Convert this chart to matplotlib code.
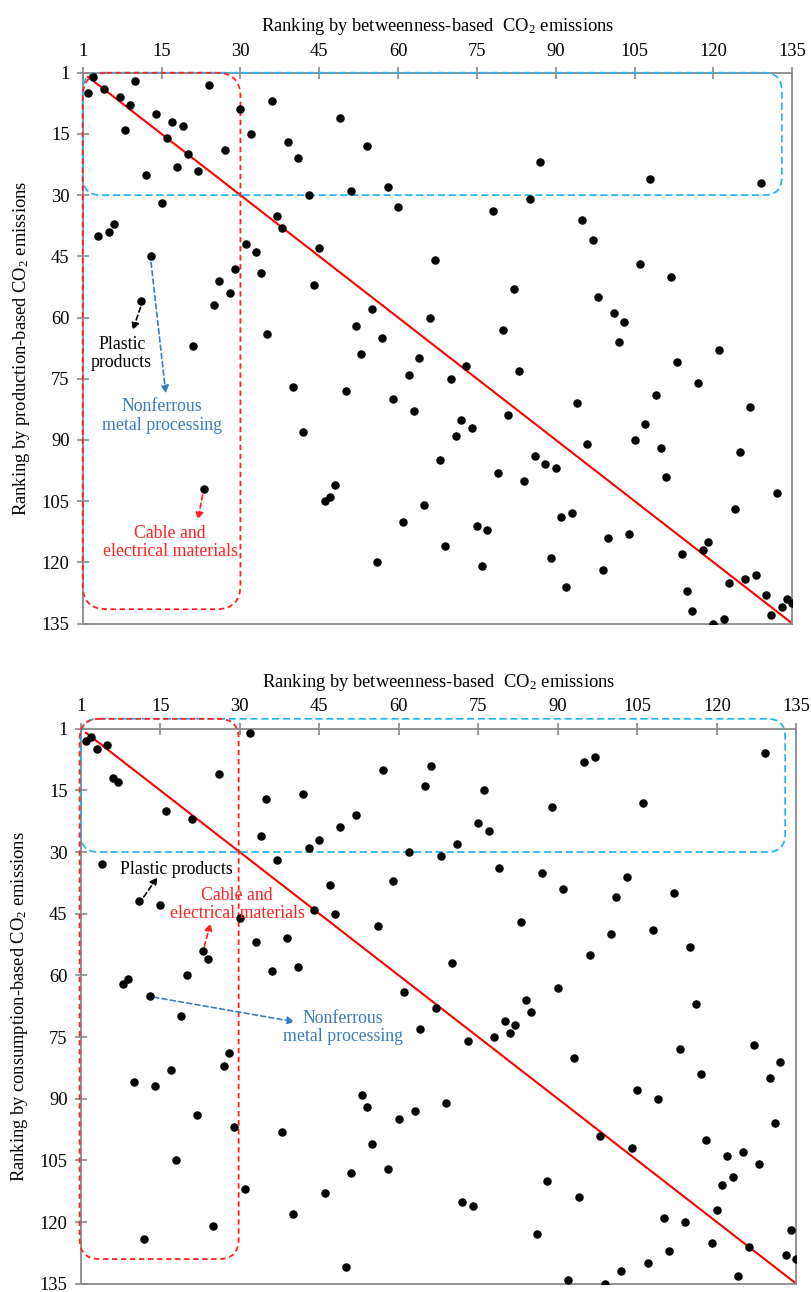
import matplotlib
matplotlib.use('Agg')
import matplotlib.pyplot as plt
from matplotlib.patches import FancyBboxPatch

plt.rcParams['font.family'] = ['Liberation Serif', 'DejaVu Serif']
plt.rcParams['mathtext.default'] = 'regular'

# sectors ranked by betweenness-based emissions (x) and the rank they get
# under production-based (top panel) and consumption-based (bottom panel)
betw_rank = list(range(1, 136))
prod_rank = [5, 1, 40, 4, 39, 37, 6, 14, 8, 2,
             56, 25, 45, 10, 32, 16, 12, 23, 13, 20,
             67, 24, 102, 3, 57, 51, 19, 54, 48, 9,
             42, 15, 44, 49, 64, 7, 35, 38, 17, 77,
             21, 88, 30, 52, 43, 105, 104, 101, 11, 78,
             29, 62, 69, 18, 58, 120, 65, 28, 80, 33,
             110, 74, 83, 70, 106, 60, 46, 95, 116, 75,
             89, 85, 72, 87, 111, 121, 112, 34, 98, 63,
             84, 53, 73, 100, 31, 94, 22, 96, 119, 97,
             109, 126, 108, 81, 36, 91, 41, 55, 122, 114,
             59, 66, 61, 113, 90, 47, 86, 26, 79, 92,
             99, 50, 71, 118, 127, 132, 76, 117, 115, 135,
             68, 134, 125, 107, 93, 124, 82, 123, 27, 128,
             133, 103, 131, 129, 130]
cons_rank = [3, 2, 5, 33, 4, 12, 13, 62, 61, 86,
             42, 124, 65, 87, 43, 20, 83, 105, 70, 60,
             22, 94, 54, 56, 121, 11, 82, 79, 97, 46,
             112, 1, 52, 26, 17, 59, 32, 98, 51, 118,
             58, 16, 29, 44, 27, 113, 38, 45, 24, 131,
             108, 21, 89, 92, 101, 48, 10, 107, 37, 95,
             64, 30, 93, 73, 14, 9, 68, 31, 91, 57,
             28, 115, 76, 116, 23, 15, 25, 75, 34, 71,
             74, 72, 47, 66, 69, 123, 35, 110, 19, 63,
             39, 134, 80, 114, 8, 55, 7, 99, 135, 50,
             41, 132, 36, 102, 88, 18, 130, 49, 90, 119,
             127, 40, 78, 120, 53, 67, 84, 100, 125, 117,
             111, 104, 109, 133, 103, 126, 77, 106, 6, 85,
             96, 81, 128, 122, 129]

tick_pos = [0, 15, 30, 45, 60, 75, 90, 105, 120, 135]
tick_lab = ['1', '15', '30', '45', '60', '75', '90', '105', '120', '135']

RED = '#ff2020'
SKY = '#29b5ef'
STEEL = '#3a7bc0'
GREY = '#8a8a8a'
FS = 13.3
FA = 12.8

fig = plt.figure(figsize=(8.11, 12.92), dpi=100)


def rbox(ax, x0, y0, x1, y1, r_px, color, dash):
    # rounded dashed box, corner radius given in pixels
    bb = ax.get_position()
    sx = bb.width * fig.get_figwidth() * fig.dpi / 135.0
    sy = bb.height * fig.get_figheight() * fig.dpi / 135.0
    rx = r_px / sx
    ry = r_px / sy
    p = FancyBboxPatch((x0, y0), x1 - x0, y1 - y0,
                       boxstyle='round,pad=0,rounding_size=%f' % rx,
                       mutation_aspect=ry / rx, fill=False,
                       edgecolor=color, linewidth=1.3, linestyle=(0, dash),
                       clip_on=False, zorder=3)
    ax.add_patch(p)


def setup(ax, ylab):
    ax.set_xlim(0, 135)
    ax.set_ylim(135, 0)
    ax.xaxis.tick_top()
    ax.xaxis.set_label_position('top')
    ax.set_xticks(tick_pos)
    ax.set_xticklabels(tick_lab)
    ax.set_yticks(tick_pos)
    ax.set_yticklabels(tick_lab)
    ax.tick_params(direction='inout', length=9, width=1.2, color=GREY,
                   labelsize=FS, pad=5)
    for s in ax.spines.values():
        s.set_color(GREY)
        s.set_linewidth(1.3)
    ax.set_xlabel('Ranking by betweenness-based  CO$_2$ emissions', fontsize=FS, labelpad=8)
    ax.set_ylabel(ylab, fontsize=FS, labelpad=7)


def arrow(ax, xy, xytext, color):
    ax.annotate('', xy=xy, xytext=xytext,
                arrowprops=dict(arrowstyle='-|>', color=color, lw=1.2,
                                ls=(0, (3, 2)), mutation_scale=11,
                                shrinkA=0, shrinkB=0), zorder=4)


# ---- top panel: production-based ----
ax1 = fig.add_axes([0.1020, 0.5174, 0.8750, 0.4263])
setup(ax1, 'Ranking by production-based CO$_2$ emissions')
ax1.plot([1, 135], [1, 135], color='red', lw=1.5, zorder=2)
ax1.scatter(betw_rank, prod_rank, s=26, color='black', zorder=5)
rbox(ax1, 0, 0, 133, 30, 18, SKY, (4, 2))
rbox(ax1, 0, 0, 30, 131.5, 24, RED, (3, 2))

arrow(ax1, (9.5, 63.1), (11.0, 57.5), 'black')
ax1.text(7.4, 68.8, 'Plastic\nproducts', ha='center', va='center',
         fontsize=FA, color='black', linespacing=1.1)
arrow(ax1, (15.8, 78.6), (13.0, 46.5), STEEL)
ax1.text(15.1, 84.1, 'Nonferrous\nmetal processing', ha='center', va='center',
         fontsize=FA, color=STEEL, linespacing=1.1)
arrow(ax1, (21.9, 109.6), (22.8, 103.5), RED)
ax1.text(16.6, 115.2, 'Cable and\nelectrical materials', ha='center', va='center',
         fontsize=FA, color=RED, linespacing=1.1)

# ---- bottom panel: consumption-based ----
ax2 = fig.add_axes([0.0995, 0.0064, 0.8824, 0.4296])
setup(ax2, 'Ranking by consumption-based CO$_2$ emissions')
ax2.plot([1, 135], [1, 135], color='red', lw=1.5, zorder=2)
ax2.scatter(betw_rank, cons_rank, s=26, color='black', zorder=5)
rbox(ax2, 0, -2.4, 132.9, 30, 18, SKY, (4, 2))
rbox(ax2, -0.2, -2.4, 29.8, 129, 20, RED, (3, 2))

arrow(ax2, (14.5, 36.1), (11.9, 40.9), 'black')
ax2.text(18.0, 34.2, 'Plastic products', ha='center', va='center',
         fontsize=FA, color='black')
arrow(ax2, (24.5, 47.3), (23.3, 53.0), RED)
ax2.text(29.5, 42.8, 'Cable and\nelectrical materials', ha='center', va='center',
         fontsize=FA, color=RED, linespacing=1.1, zorder=6)
arrow(ax2, (40.4, 71.3), (13.8, 65.3), STEEL)
ax2.text(49.4, 72.7, 'Nonferrous\nmetal processing', ha='center', va='center',
         fontsize=FA, color=STEEL, linespacing=1.1)

fig.savefig('out.png', dpi=100)
